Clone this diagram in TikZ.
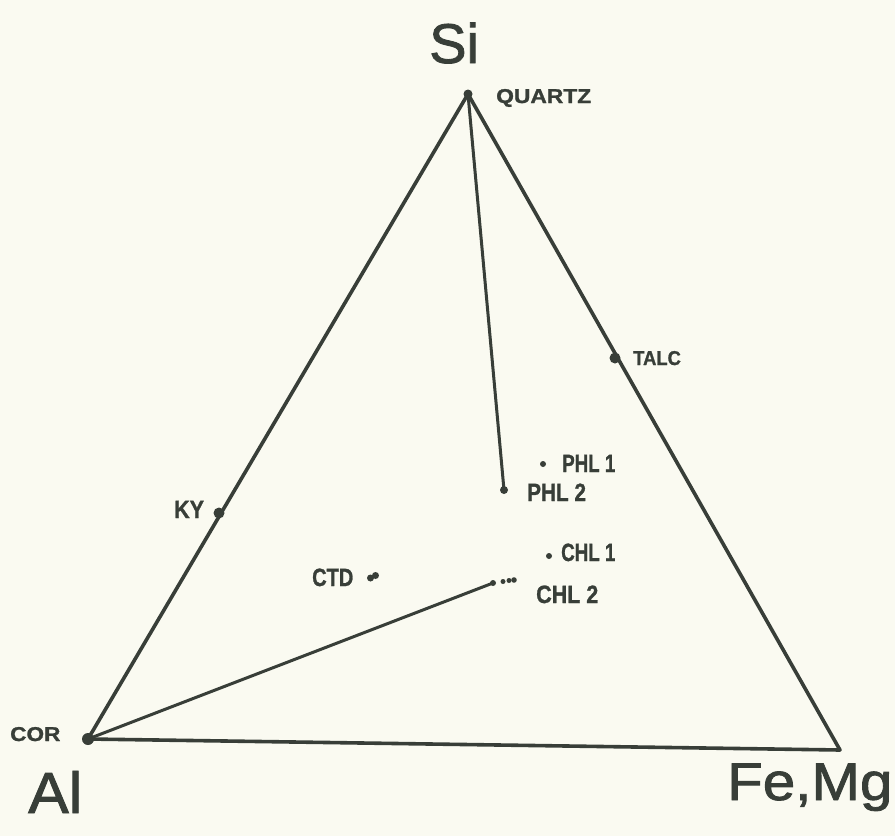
\documentclass[tikz,border=0pt]{standalone}
\usepackage{graphicx}
\usepackage{fontspec}
\usetikzlibrary{calc}
\setmainfont{Liberation Sans}
\newfontfamily\labfont[FakeBold=1.2]{Liberation Sans Bold}
\newfontfamily\bigfont[FakeBold=1.5]{Liberation Sans}
\definecolor{ink}{RGB}{56,62,56}
\definecolor{paper}{RGB}{250,250,241}
\tikzset{
  edge/.style={draw=ink, line width=3.6pt, line join=round, line cap=round},
  tie/.style={draw=ink, line width=3pt, line cap=round},
  bigdot/.style={fill=ink, draw=none},
  lab/.style={inner sep=0pt, anchor=base west, text=ink, font=\labfont\fontsize{25}{25}\selectfont},
  labs/.style={inner sep=0pt, anchor=base west, text=ink, font=\labfont\fontsize{20}{20}\selectfont},
  corner/.style={inner sep=0pt, anchor=base west, text=ink}
}
\begin{document}
\begin{tikzpicture}[x=1pt,y=-1pt]
\fill[paper] (0,0) rectangle (895,836);
\useasboundingbox (0,0) rectangle (895,836);
% vertices and points
\coordinate (si) at (468,94);
\coordinate (al) at (88,739);
\coordinate (fm) at (840,750);
\coordinate (phltwo) at (504,490);
\coordinate (phlone) at (543,464);
\coordinate (chlone) at (549,556);
\coordinate (chltwo) at (493,583);
\coordinate (ky) at (219,513);
\coordinate (talc) at (615,358);
\coordinate (ctd) at (373,577);
% triangle
\draw[edge] (al) -- (si) -- (fm) -- cycle;
% tie lines
\draw[tie] (si) -- (phltwo);
\draw[tie] (al) -- (chltwo);
% dots
\fill[bigdot] (si) circle (4.5);
\fill[bigdot] (al) circle (6);
\fill[bigdot] (ky) circle (5.5);
\fill[bigdot] (talc) circle (5.5);
\fill[bigdot] (phltwo) circle (4);
\fill[bigdot] (phlone) circle (3);
\fill[bigdot] (chlone) circle (3);
\fill[bigdot] (chltwo) circle (3);
\fill[bigdot] (503,581.5) circle (2.5);
\fill[bigdot] (509,580.5) circle (2.5);
\fill[bigdot] (514,580) circle (2.8);
\fill[bigdot] ($(ctd)+(-2.5,1)$) circle (3.5);
\fill[bigdot] ($(ctd)+(2.5,-1.5)$) circle (3.5);
% corner labels
\node[corner, font=\bigfont\fontsize{56}{56}\selectfont] (lsi) at (429,63) {Si};
\node[corner, font=\bigfont\fontsize{58}{58}\selectfont] (lal) at (28,813) {\scalebox{1.05}[1]{Al}};
\node[corner, font=\bigfont\fontsize{53}{53}\selectfont] (lfm) at (727,800) {\scalebox{1.1}[1]{Fe,Mg}};
% mineral labels
\node[labs] (lquartz) at (496,103) {\scalebox{1.14}[1]{QUARTZ}};
\node[labs] (ltalc) at (633,365) {\scalebox{0.92}[1]{TALC}};
\node[labs] (lcor) at (10,741) {\scalebox{1.13}[1]{COR}};
\node[lab] (lky) at (174,518) {\scalebox{0.86}[1]{KY}};
\node[lab] (lphlone) at (562,472) {\scalebox{0.75}[1]{PHL 1}};
\node[lab] (lphltwo) at (527,501) {\scalebox{0.83}[1]{PHL 2}};
\node[lab] (lchlone) at (561,561) {\scalebox{0.75}[1]{CHL 1}};
\node[lab] (lchltwo) at (536,603) {\scalebox{0.86}[1]{CHL 2}};
\node[lab] (lctd) at (312,586) {\scalebox{0.8}[1]{CTD}};
\end{tikzpicture}
\end{document}
